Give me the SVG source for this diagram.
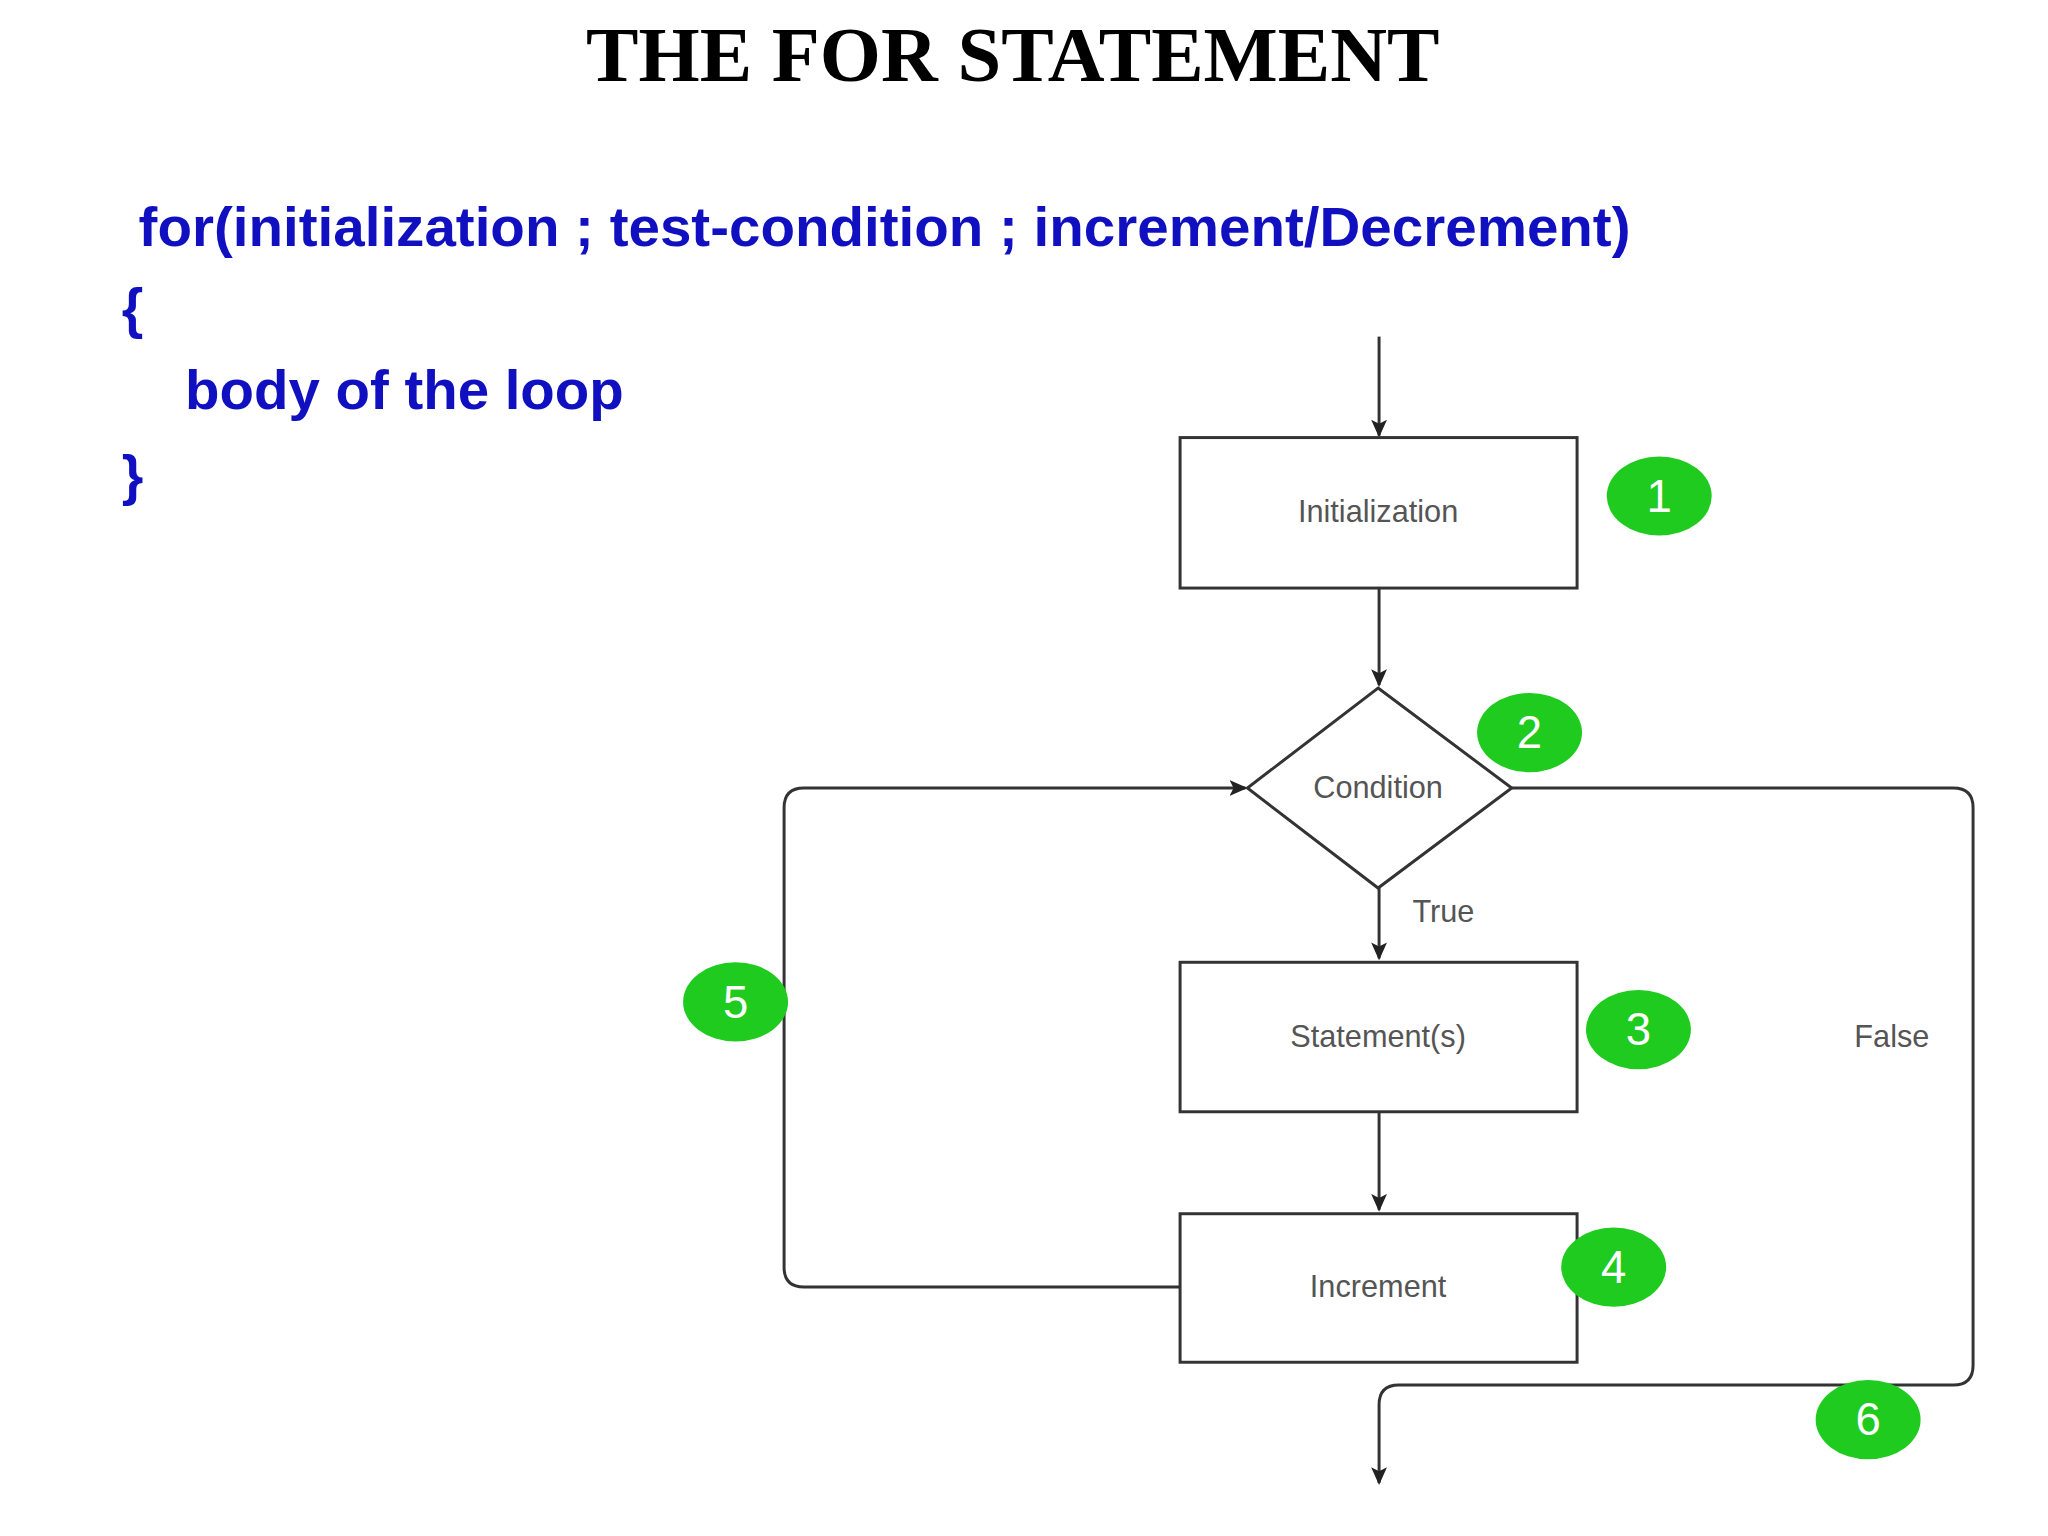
<svg xmlns="http://www.w3.org/2000/svg" width="2048" height="1536" viewBox="0 0 2048 1536">
<defs>
<marker id="ah" markerWidth="18" markerHeight="16" refX="16" refY="8" orient="auto" markerUnits="userSpaceOnUse"><path d="M0,0 L18,8 L0,16 L4,8 Z" fill="#222"/></marker>
<style>
.t{font-family:"Liberation Sans",Arial,sans-serif;font-size:31px;fill:#555;text-anchor:middle}
.code{font-family:"Liberation Sans",Arial,sans-serif;font-weight:bold;font-size:56px;fill:#1010c0}
.box{fill:#fff;stroke:#333;stroke-width:3}
.ln{fill:none;stroke:#333;stroke-width:3}
.c{fill:#1ecb1e}
.n{font-family:"Liberation Sans",Arial,sans-serif;font-size:46px;fill:#fff;text-anchor:middle}
</style>
</defs>
<rect width="2048" height="1536" fill="#fff"/>
<g transform="scale(0.99)">
<text x="1023" y="82" text-anchor="middle" font-family="Liberation Serif,serif" font-weight="bold" font-size="80" textLength="862" lengthAdjust="spacingAndGlyphs">THE FOR STATEMENT</text>
<text class="code" x="140" y="248" textLength="1507" lengthAdjust="spacingAndGlyphs">for(initialization ; test-condition ; increment/Decrement)</text>
<text class="code" x="123" y="330">{</text>
<text class="code" x="187" y="413" textLength="443" lengthAdjust="spacingAndGlyphs">body of the loop</text>
<text class="code" x="123" y="499">}</text>
<g id="connectors">
<path class="ln" d="M1393,340 V440" marker-end="url(#ah)"/>
<path class="ln" d="M1393,594 V692" marker-end="url(#ah)"/>
<path class="ln" d="M1393,897 V968" marker-end="url(#ah)"/>
<path class="ln" d="M1393,1123 V1222" marker-end="url(#ah)"/>
<path class="ln" d="M1192,1300 H812 Q792,1300 792,1280 V816 Q792,796 812,796 H1258" marker-end="url(#ah)"/>
<path class="ln" d="M1527,796 H1973 Q1993,796 1993,816 V1379 Q1993,1399 1973,1399 H1413 Q1393,1399 1393,1419 V1498" marker-end="url(#ah)"/>
<text class="t" x="1458" y="931">True</text>
<text class="t" x="1911" y="1058">False</text>
</g>
<g id="init"><rect class="box" x="1192" y="442" width="401" height="152"/><text class="t" x="1392" y="527">Initialization</text></g>
<g id="cond"><path class="box" d="M1392,695 L1527,796 L1392,897 L1260,796 Z"/><text class="t" x="1392" y="806">Condition</text></g>
<g id="stmt"><rect class="box" x="1192" y="972" width="401" height="151"/><text class="t" x="1392" y="1058">Statement(s)</text></g>
<g id="incr"><rect class="box" x="1192" y="1226" width="401" height="150"/><text class="t" x="1392" y="1310">Increment</text></g>
<g id="b1"><ellipse class="c" cx="1676" cy="501" rx="53" ry="40"/><text class="n" x="1676" y="517">1</text></g>
<g id="b2"><ellipse class="c" cx="1545" cy="740" rx="53" ry="40"/><text class="n" x="1545" y="756">2</text></g>
<g id="b3"><ellipse class="c" cx="1655" cy="1040" rx="53" ry="40"/><text class="n" x="1655" y="1056">3</text></g>
<g id="b4"><ellipse class="c" cx="1630" cy="1280" rx="53" ry="40"/><text class="n" x="1630" y="1296">4</text></g>
<g id="b5"><ellipse class="c" cx="743" cy="1012" rx="53" ry="40"/><text class="n" x="743" y="1028">5</text></g>
<g id="b6"><ellipse class="c" cx="1887" cy="1434" rx="53" ry="40"/><text class="n" x="1887" y="1450">6</text></g>
</g>
</svg>
